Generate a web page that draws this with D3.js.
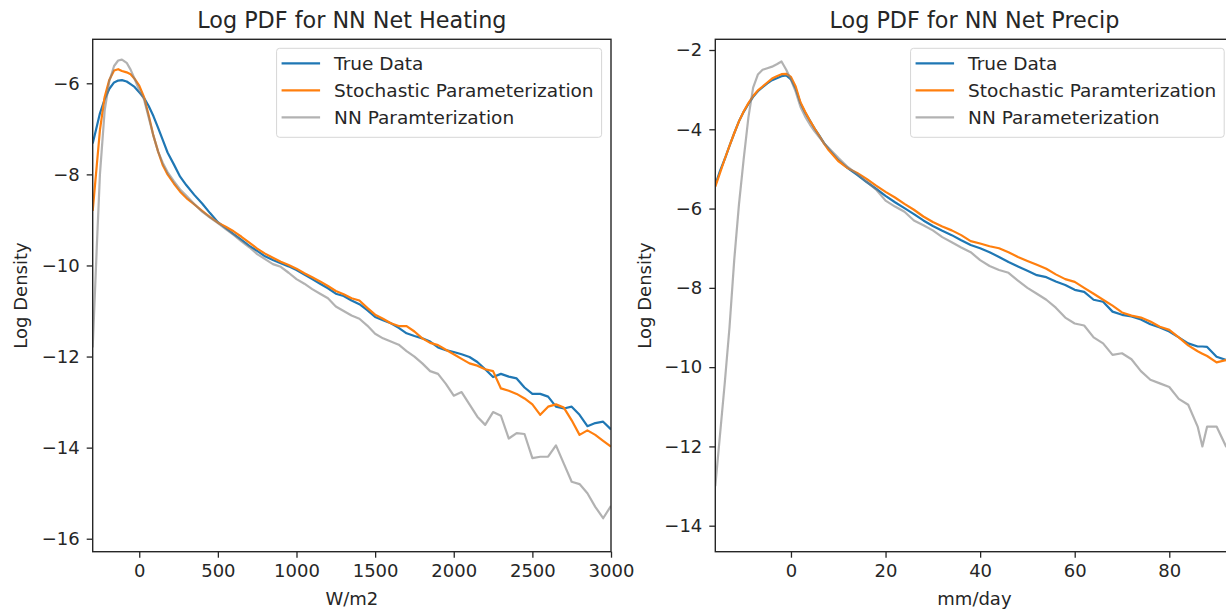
<!DOCTYPE html>
<html>
<head>
<meta charset="utf-8">
<script src="https://cdn.jsdelivr.net/npm/d3@7"></script>
<style>
  body { margin: 0; background: #fff; }
  svg { display: block; font-family: "DejaVu Sans", sans-serif; }
</style>
</head>
<body>
<div id="chart"></div>
<script>
// ---- left panel: net heating ----
const heatX = [-296, -270, -250, -220, -190, -160, -134, -110, -80, -55, -30, 0, 30, 60, 90, 120, 150, 180, 220, 260, 300, 350, 400, 450,
  500, 550, 600, 650, 700, 750, 800, 850, 900, 950, 1000, 1050, 1100, 1150, 1200, 1250, 1300, 1350, 1400, 1450, 1500, 1550, 1600, 1650,
  1700, 1750, 1800, 1850, 1900, 1950, 2000, 2050, 2100, 2150, 2200, 2250, 2300, 2350, 2400, 2450, 2500, 2550, 2600, 2650, 2700, 2750,
  2800, 2850, 2900, 2950, 3000];
const heatTrue = [-7.32, -6.95, -6.66, -6.35, -6.12, -5.98, -5.94, -5.93, -5.96, -6.02, -6.08, -6.2, -6.32, -6.5, -6.72, -6.98, -7.25, -7.52, -7.78, -8.05, -8.24, -8.45, -8.64, -8.85,
  -9.05, -9.18, -9.31, -9.44, -9.57, -9.68, -9.8, -9.88, -9.95, -10.02, -10.1, -10.2, -10.3, -10.4, -10.5, -10.62, -10.67, -10.77, -10.85, -10.98, -11.13, -11.2, -11.27, -11.37,
  -11.49, -11.55, -11.6, -11.67, -11.8, -11.86, -11.9, -11.95, -12.01, -12.12, -12.28, -12.45, -12.38, -12.44, -12.48, -12.68, -12.82, -12.82, -12.88, -13.1, -13.14, -13.1,
  -13.28, -13.53, -13.46, -13.43, -13.6];
const heatStoch = [-8.8, -7.8, -7.03, -6.3, -5.92, -5.72, -5.69, -5.73, -5.76, -5.8, -5.9, -6.05, -6.3, -6.7, -7.15, -7.5, -7.8, -8.0, -8.2, -8.38, -8.52, -8.66, -8.8, -8.94,
  -9.06, -9.15, -9.25, -9.37, -9.5, -9.63, -9.74, -9.83, -9.92, -9.99, -10.07, -10.17, -10.26, -10.35, -10.45, -10.56, -10.63, -10.72, -10.77, -10.93, -11.08, -11.17, -11.27, -11.33,
  -11.33, -11.45, -11.6, -11.7, -11.75, -11.85, -11.95, -12.05, -12.15, -12.2, -12.28, -12.32, -12.7, -12.75, -12.82, -12.92, -13.05, -13.28, -13.1, -13.05, -13.12, -13.4,
  -13.72, -13.62, -13.72, -13.85, -13.98];
const heatNN = [-11.8, -9.6, -8.0, -6.6, -5.95, -5.62, -5.5, -5.48, -5.55, -5.7, -5.9, -6.15, -6.35, -6.75, -7.15, -7.5, -7.75, -7.95, -8.15, -8.33, -8.47, -8.65, -8.82, -8.95,
  -9.07, -9.2, -9.33, -9.47, -9.6, -9.75, -9.86, -9.97, -10.03, -10.16, -10.3, -10.4, -10.52, -10.62, -10.72, -10.9, -11.0, -11.1, -11.17, -11.32, -11.5, -11.6, -11.67, -11.74,
  -11.88, -12.0, -12.15, -12.32, -12.38, -12.6, -12.86, -12.78, -13.05, -13.32, -13.5, -13.22, -13.3, -13.8, -13.68, -13.7, -14.23, -14.2, -14.2, -13.95, -14.35, -14.75,
  -14.8, -15.0, -15.3, -15.55, -15.28];

// ---- right panel: net precip ----
const precipX = [-16, -15, -14, -13, -12, -11, -10, -9, -8, -7, -6, -5, -4, -3, -2, -1, 0, 1, 2, 3, 4, 5, 6, 7, 8, 10, 12, 14, 16, 18, 20,
  22, 24, 26, 28, 30, 32, 34, 36, 38, 40, 42, 44, 46, 48, 50, 52, 54, 56, 58, 60, 62, 64, 66, 68, 70, 72, 74, 76, 78, 80, 82, 84, 86, 87, 88, 90, 92, 94];
const precipTrue = [-5.4, -5.05, -4.75, -4.42, -4.1, -3.8, -3.56, -3.36, -3.18, -3.04, -2.94, -2.84, -2.76, -2.71, -2.66, -2.64, -2.74, -2.98, -3.34, -3.58, -3.78, -3.98, -4.16, -4.35, -4.5, -4.78, -4.98, -5.15, -5.33, -5.5, -5.68,
  -5.84, -5.99, -6.14, -6.3, -6.44, -6.56, -6.67, -6.8, -6.92, -7.0, -7.1, -7.22, -7.35, -7.46, -7.57, -7.68, -7.73, -7.84, -7.93, -8.05, -8.1, -8.3, -8.35, -8.6, -8.68, -8.72, -8.8, -8.92, -9.0, -9.1, -9.25, -9.4, -9.48, -9.48, -9.49, -9.74, -9.82, -9.9];
const precipStoch = [-5.45, -5.1, -4.75, -4.42, -4.1, -3.8, -3.55, -3.34, -3.16, -3.02, -2.92, -2.82, -2.72, -2.66, -2.61, -2.6, -2.68, -2.92, -3.32, -3.56, -3.78, -3.98, -4.17, -4.36, -4.53, -4.8, -4.98, -5.1, -5.25, -5.42, -5.58,
  -5.72, -5.88, -6.03, -6.2, -6.34, -6.45, -6.55, -6.67, -6.82, -6.88, -6.95, -7.0, -7.1, -7.22, -7.32, -7.42, -7.52, -7.66, -7.78, -7.85, -8.0, -8.15, -8.3, -8.45, -8.62, -8.7, -8.75, -8.85, -8.98, -9.06, -9.25, -9.45, -9.6, -9.66, -9.72, -9.88, -9.82, -9.9];
const precipNN = [-13.0, -11.7, -10.4, -9.0, -7.3, -5.9, -4.75, -3.7, -2.95, -2.62, -2.5, -2.46, -2.42, -2.36, -2.29, -2.5, -2.75, -3.05, -3.43, -3.68, -3.88, -4.05, -4.2, -4.35, -4.47, -4.72, -4.95, -5.13, -5.32, -5.52, -5.8,
  -5.95, -6.08, -6.3, -6.42, -6.55, -6.72, -6.85, -6.98, -7.1, -7.3, -7.45, -7.55, -7.62, -7.82, -8.0, -8.15, -8.3, -8.5, -8.75, -8.9, -8.95, -9.25, -9.4, -9.69, -9.65, -9.8, -10.1, -10.32, -10.41, -10.5, -10.8, -10.95, -11.5, -12.0, -11.5, -11.5, -12.0, -12.2];

const heatTicksX = [0, 500, 1000, 1500, 2000, 2500, 3000];
const heatTicksY = [-16, -14, -12, -10, -8, -6];
const precipTicksX = [0, 20, 40, 60, 80];
const precipTicksY = [-14, -12, -10, -8, -6, -4, -2];

const colors = ["#1f77b4", "#ff7f0e", "#7f7f7f"];

const width = 1226, height = 609;
const svg = d3.select("#chart").append("svg")
    .attr("width", width)
    .attr("height", height);
svg.append("rect").attr("width", width).attr("height", height).attr("fill", "#fff");

function panel(opts) {
    let {left, right, top, bottom} = opts;
    let x = d3.scaleLinear().domain(opts.xDomain).range([left, right]);
    let y = d3.scaleLinear().domain(opts.yDomain).range([bottom, top]);
    let g = svg.append("g");

    let clipId = "clip-" + opts.id;
    g.append("clipPath").attr("id", clipId)
        .append("rect")
        .attr("x", left).attr("y", top)
        .attr("width", right - left).attr("height", bottom - top);

    let line = d3.line()
        .x(d => x(d[0]))
        .y(d => y(d[1]));

    let lines = g.append("g").attr("clip-path", "url(#" + clipId + ")");
    opts.series.forEach(function (s, i) {
        lines.append("path")
            .datum(opts.xs.map((v, j) => [v, s[j]]))
            .attr("d", line)
            .attr("fill", "none")
            .attr("stroke", colors[i])
            .attr("stroke-opacity", i === 2 ? 0.6 : 1)
            .attr("stroke-width", 2.2)
            .attr("stroke-linejoin", "round");
    });

    // axes
    let xAxis = d3.axisBottom(x).tickValues(opts.xTicks).tickSize(6).tickPadding(7)
        .tickFormat(d => String(d).replace("-", "\u2212"));
    let yAxis = d3.axisLeft(y).tickValues(opts.yTicks).tickSize(6).tickPadding(7)
        .tickFormat(d => String(d).replace("-", "\u2212"));

    let gx = g.append("g").attr("transform", "translate(0," + bottom + ")").call(xAxis);
    let gy = g.append("g").attr("transform", "translate(" + left + ",0)").call(yAxis);
    [gx, gy].forEach(function (a) {
        a.select(".domain").remove();
        a.selectAll("line").attr("stroke", "#262626").attr("stroke-width", 1.3);
        a.selectAll("text").attr("fill", "#262626").attr("font-size", 18).attr("font-family", "DejaVu Sans");
    });

    // frame
    g.append("rect")
        .attr("x", left).attr("y", top)
        .attr("width", right - left).attr("height", bottom - top)
        .attr("fill", "none")
        .attr("stroke", "#262626")
        .attr("stroke-width", 1.4);

    g.append("text")
        .attr("x", (left + right) / 2).attr("y", 28)
        .attr("text-anchor", "middle")
        .attr("font-size", 22.3)
        .attr("fill", "#262626")
        .text(opts.title);

    g.append("text")
        .attr("x", (left + right) / 2).attr("y", 605)
        .attr("text-anchor", "middle")
        .attr("font-size", 18)
        .attr("fill", "#262626")
        .text(opts.xLabel);

    g.append("text")
        .attr("transform", "translate(" + opts.yLabelX + "," + (top + bottom) / 2 + ") rotate(-90)")
        .attr("text-anchor", "middle")
        .attr("font-size", 18)
        .attr("fill", "#262626")
        .text("Log Density");

    // legend
    let leg = g.append("g");
    let box = leg.append("rect")
        .attr("y", 48.3).attr("height", 89)
        .attr("rx", 3)
        .attr("fill", "#fff").attr("fill-opacity", 0.8)
        .attr("stroke", "#d6d6d6").attr("stroke-width", 1);
    let maxW = 0;
    opts.names.forEach(function (name, i) {
        let cy = 63.3 + i * 27;
        leg.append("line")
            .attr("x1", 0).attr("x2", 38.5)
            .attr("y1", cy).attr("y2", cy)
            .attr("stroke", colors[i])
            .attr("stroke-opacity", i === 2 ? 0.6 : 1)
            .attr("stroke-width", 2.2);
        let t = leg.append("text")
            .attr("x", 52.5).attr("y", cy + 6.5)
            .attr("font-size", 18.5)
            .attr("fill", "#262626")
            .text(name);
        maxW = Math.max(maxW, t.node().getComputedTextLength());
    });
    let boxW = 52.5 + maxW + 8 + 5;
    let boxX = right - 9.4 - boxW;
    box.attr("x", -5).attr("width", boxW);
    leg.attr("transform", "translate(" + (boxX + 5) + ",0)");
}

panel({
    id: "heat",
    left: 92.7, right: 611, top: 39.3, bottom: 551.7,
    xDomain: [-296, 3000], yDomain: [-16.285, -5.034],
    xs: heatX, series: [heatTrue, heatStoch, heatNN],
    xTicks: heatTicksX, yTicks: heatTicksY,
    title: "Log PDF for NN Net Heating",
    xLabel: "W/m2",
    yLabelX: 27,
    names: ["True Data", "Stochastic Parameterization", "NN Paramterization"]
});

panel({
    id: "precip",
    left: 715.3, right: 1233.6, top: 39.3, bottom: 551.7,
    xDomain: [-16, 93.6], yDomain: [-14.656, -1.73],
    xs: precipX, series: [precipTrue, precipStoch, precipNN],
    xTicks: precipTicksX, yTicks: precipTicksY,
    title: "Log PDF for NN Net Precip",
    xLabel: "mm/day",
    yLabelX: 651,
    names: ["True Data", "Stochastic Paramterization", "NN Parameterization"]
});
</script>
</body>
</html>
